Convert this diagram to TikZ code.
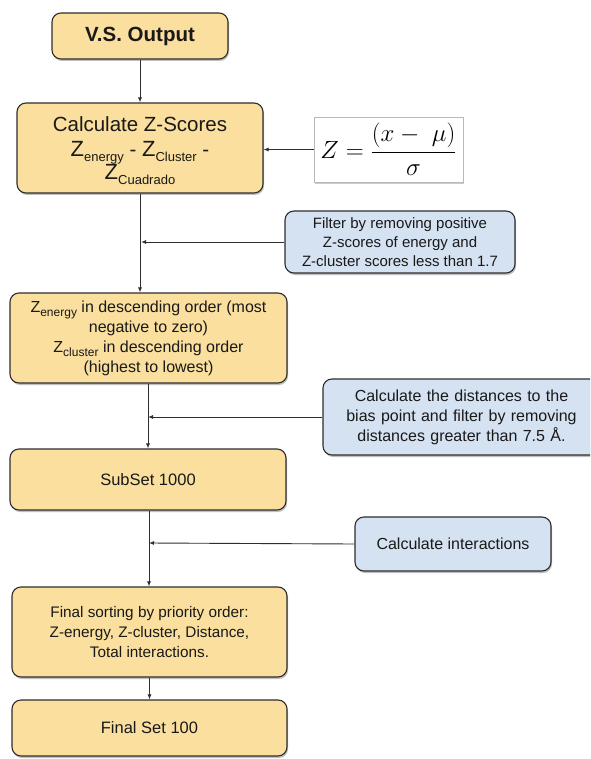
\documentclass[tikz,border=0pt]{standalone}
\usepackage{fontspec}
\setmainfont{Liberation Sans}
\usetikzlibrary{arrows.meta,shadows}
\definecolor{boxyellow}{HTML}{FADF9E}
\definecolor{boxblue}{HTML}{D5E2F2}
\definecolor{edgecol}{HTML}{2E2E2E}
\newcommand\zsub[1]{\raisebox{-0.55ex}{\fontsize{12}{12}\selectfont #1}}
\newcommand\zsubbig[1]{\raisebox{-0.45ex}[0pt][0pt]{\fontsize{13}{13}\selectfont #1}}
\begin{document}
\begin{tikzpicture}[x=1pt,y=-1pt,
  base/.style={draw=edgecol, line width=1.1pt, rounded corners=9pt, inner sep=2pt, align=center, text=black!90,
    drop shadow={shadow xshift=1pt, shadow yshift=-2pt, opacity=0.25, fill=black}},
  ybox/.style={base, fill=boxyellow},
  bbox/.style={base, fill=boxblue},
  conn/.style={draw=edgecol, line width=0.9pt},
  arr/.style={conn, -{Latex[length=5pt,width=4pt]}},
]
\clip (0,0) rectangle (590,759);
\useasboundingbox (0,0) rectangle (590,759);
\fill[white] (0,0) rectangle (590,759);

\node[ybox, minimum width=176pt, minimum height=46pt, font=\bfseries\fontsize{20.5}{23}\selectfont] (vs) at (140,36) {V.S. Output};

\node[ybox, minimum width=246pt, minimum height=90pt, font=\fontsize{20.5}{20}\selectfont] (zs) at (140,148)
  {Calculate Z-Scores\\[5pt]
   {\fontsize{22}{20}\selectfont Z}\zsubbig{energy} - {\fontsize{22}{20}\selectfont Z}\zsubbig{Cluster} -\\[3pt]
   {\fontsize{22}{20}\selectfont Z}\zsubbig{Cuadrado}};

\node[draw=gray!55, line width=0.8pt, fill=white, minimum width=149pt, minimum height=65pt,
  drop shadow={shadow xshift=1pt, shadow yshift=-2pt, opacity=0.2, fill=black}, font=\fontsize{24}{26}\selectfont] (formula) at (388.5,149.5)
  {$\displaystyle Z=\frac{(x-\;\mu)}{\sigma}$};

\node[bbox, minimum width=230pt, minimum height=62pt, font=\fontsize{15}{19}\selectfont] (filter) at (400,242)
  {Filter by removing positive\\Z-scores of energy and\\Z-cluster scores less than 1.7};

\node[ybox, minimum width=277pt, minimum height=90pt, font=\fontsize{16}{20}\selectfont] (zen) at (148.5,338)
  {Z\zsub{energy} in descending order (most\\negative to zero)\\Z\zsub{cluster} in descending order\\(highest to lowest)};

\node[bbox, minimum width=277pt, minimum height=76pt, font=\fontsize{16}{20}\selectfont, text width=260pt] (dist) at (461.5,417)
  {Calculate the distances to the\\bias point and filter by removing\\distances greater than 7.5 Å.};

\node[ybox, minimum width=276pt, minimum height=61pt, font=\fontsize{16.5}{20}\selectfont] (subset) at (148,479.5) {SubSet 1000};

\node[bbox, minimum width=196pt, minimum height=54pt, font=\fontsize{16}{20}\selectfont] (inter) at (453,544) {Calculate interactions};

\node[ybox, minimum width=275pt, minimum height=90pt, font=\fontsize{15.3}{20}\selectfont] (sort) at (149.5,632)
  {Final sorting by priority order:\\Z-energy, Z-cluster, Distance,\\Total interactions.};

\node[ybox, minimum width=275pt, minimum height=56pt, font=\fontsize{16.5}{20}\selectfont] (final) at (149.5,728) {Final Set 100};

% connectors
\coordinate (j1) at (141,242);
\coordinate (j2) at (148,417);
\coordinate (j3) at (149,543);

\draw[arr] (vs.south) -- (vs.south |- zs.north);
\draw[arr] (formula.west) -- (formula.west -| zs.east);
\draw[arr] (zs.south) -- (zs.south |- zen.north);
\draw[arr] (filter.west) -- (j1);
\draw[arr] (zen.south -| j2) -- (j2 |- subset.north);
\draw[arr] (dist.west) -- (j2);
\draw[arr] (subset.south -| j3) -- (j3 |- sort.north);
\draw[arr] (inter.west) -- (j3);
\draw[arr] (sort.south) -- (final.north);
\end{tikzpicture}
\end{document}
